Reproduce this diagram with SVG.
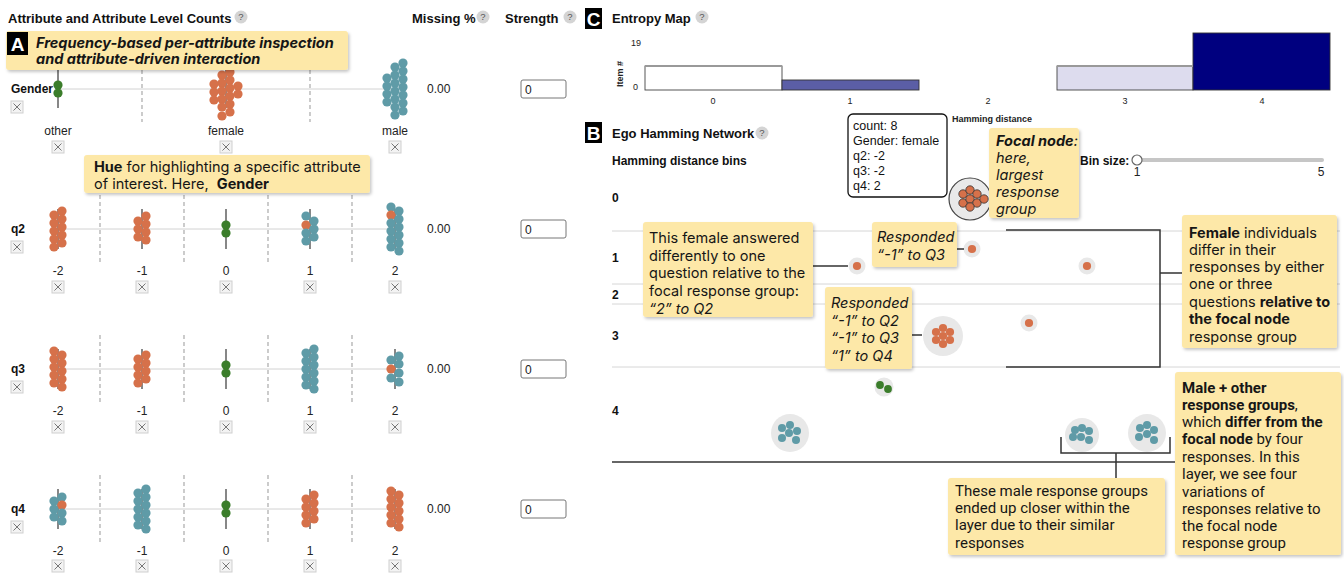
<svg xmlns="http://www.w3.org/2000/svg" width="1344" height="575" viewBox="0 0 1344 575">
<style>
.hd{font-family:"Liberation Sans",Arial,sans-serif;font-weight:700;font-size:13px;fill:#111}
.rl{font-family:"Liberation Sans",Arial,sans-serif;font-weight:700;font-size:12px;fill:#111}
.lv{font-family:"Liberation Sans",Arial,sans-serif;font-size:12px;fill:#222;text-anchor:middle}
.num{font-family:"Liberation Sans",Arial,sans-serif;font-size:12px;fill:#222}
.sm{font-family:"Liberation Sans",Arial,sans-serif;font-size:9px;fill:#222}
.axis{stroke:#d2d2d2;stroke-width:1}
.dash{stroke:#aaa;stroke-width:1.2;stroke-dasharray:4 3}
.vl{stroke:#7a7a7a;stroke-width:1.8}
.inp{fill:#fff;stroke:#777;stroke-width:1}
.co{fill:#fde8a8;filter:url(#sh)}
.ct{font-family:Inter,"Liberation Sans",sans-serif;font-size:14.5px;fill:#161616}
.cr{font-family:Roboto,"Liberation Sans",sans-serif;font-size:15px;fill:#161616}
.b{font-weight:700}
.i{font-style:italic}
.sep{stroke:#d6d6d6;stroke-width:1}
.halo{fill:#e8e8e8}
.conn{fill:none;stroke:#333;stroke-width:1.5}
.lab{fill:#000}
.labt{font-family:"Liberation Sans",Arial,sans-serif;font-weight:700;font-size:19px;fill:#fff;text-anchor:middle}
.tip{font-family:"Liberation Sans",Arial,sans-serif;font-size:12.5px;fill:#111}
</style>
<defs>
<filter id="sh" x="-10%" y="-10%" width="125%" height="130%">
<feDropShadow dx="1.5" dy="2" stdDeviation="1.6" flood-color="#000" flood-opacity="0.22"/>
</filter>
<circle id="o" r="4.6" fill="#d6714a"/>
<circle id="t" r="4.6" fill="#5f9ba7"/>
<circle id="g" r="4.6" fill="#3b7d2b"/>
<circle id="no" r="4.1" fill="#d6714a"/>
<circle id="nt" r="4" fill="#5f9ba7"/>
<circle id="ng" r="3.9" fill="#3b7d2b"/>
<circle id="fo" r="4.2" fill="#d6714a" stroke="#333" stroke-width="0.8"/>
<g id="xb"><rect x="-6" y="-6" width="12" height="12" fill="#f3f3f3" stroke="#cfcfcf"/><path d="M-3.5,-3.5L3.5,3.5M3.5,-3.5L-3.5,3.5" stroke="#777" stroke-width="1"/></g>
<g id="qm"><circle r="6.5" fill="#d4d4d4"/><text y="3.3" font-family="Liberation Sans,Arial,sans-serif" font-size="9.5" fill="#555" text-anchor="middle">?</text></g>
</defs>
<rect width="1344" height="575" fill="#fff"/>

<!-- Panel A headers -->
<g id="headers-a">
<text class="hd" x="8" y="23">Attribute and Attribute Level Counts</text>
<use href="#qm" x="241" y="17"/>
<text class="hd" x="412" y="23">Missing %</text>
<use href="#qm" x="483" y="17"/>
<text class="hd" x="505" y="23">Strength</text>
<use href="#qm" x="570" y="17"/>
</g>

<!-- Gender row -->
<g id="row-gender">
<line class="axis" x1="58" y1="89" x2="395" y2="89"/>
<line class="dash" x1="142" y1="56" x2="142" y2="122"/>
<line class="dash" x1="310" y1="56" x2="310" y2="122"/>
<line class="vl" x1="58" y1="70" x2="58" y2="108"/>
<line class="vl" x1="226" y1="70" x2="226" y2="108"/>
<line class="vl" x1="395" y1="70" x2="395" y2="108"/>
<use href="#g" x="58" y="85"/><use href="#g" x="58" y="93"/>
<g>
<use href="#o" x="230" y="72"/><use href="#o" x="222" y="75"/><use href="#o" x="230" y="80"/><use href="#o" x="222" y="83"/><use href="#o" x="214" y="84"/><use href="#o" x="238" y="86"/><use href="#o" x="230" y="88"/><use href="#o" x="222" y="91"/><use href="#o" x="214" y="92"/><use href="#o" x="238" y="94"/><use href="#o" x="230" y="96"/><use href="#o" x="222" y="99"/><use href="#o" x="214" y="100"/><use href="#o" x="230" y="104"/><use href="#o" x="222" y="107"/><use href="#o" x="230" y="112"/><use href="#o" x="222" y="116"/>
</g>
<g>
<use href="#t" x="403" y="63"/><use href="#t" x="395" y="67"/><use href="#t" x="403" y="71"/><use href="#t" x="395" y="75"/><use href="#t" x="387" y="78"/><use href="#t" x="403" y="79"/><use href="#t" x="395" y="83"/><use href="#t" x="387" y="86"/><use href="#t" x="403" y="87"/><use href="#t" x="395" y="91"/><use href="#t" x="387" y="94"/><use href="#t" x="403" y="95"/><use href="#t" x="395" y="99"/><use href="#t" x="387" y="102"/><use href="#t" x="403" y="103"/><use href="#t" x="395" y="107"/><use href="#t" x="403" y="111"/><use href="#t" x="395" y="115"/>
</g>
<text class="rl" x="11" y="93">Gender</text>
<use href="#xb" x="17" y="107"/>
<text class="lv" x="58" y="135">other</text><text class="lv" x="226" y="135">female</text><text class="lv" x="395" y="135">male</text>
<use href="#xb" x="58" y="147"/><use href="#xb" x="226" y="147"/><use href="#xb" x="395" y="147"/>
<text class="num" x="427" y="93">0.00</text>
<rect class="inp" x="521" y="80" width="45" height="18" rx="2"/><text class="num" x="525" y="94">0</text>
</g>

<!-- q2 row -->
<g id="row-q2">
<line class="axis" x1="58" y1="229" x2="395" y2="229"/>
<line class="dash" x1="100" y1="195" x2="100" y2="263"/><line class="dash" x1="184" y1="195" x2="184" y2="263"/><line class="dash" x1="268" y1="195" x2="268" y2="263"/><line class="dash" x1="352" y1="195" x2="352" y2="263"/>
<line class="vl" x1="58" y1="209" x2="58" y2="249"/><line class="vl" x1="142" y1="209" x2="142" y2="249"/><line class="vl" x1="226" y1="209" x2="226" y2="249"/><line class="vl" x1="310" y1="209" x2="310" y2="249"/><line class="vl" x1="395" y1="209" x2="395" y2="249"/>
<use href="#o" x="54" y="215"/><use href="#o" x="54" y="223"/><use href="#o" x="54" y="231"/><use href="#o" x="54" y="239"/><use href="#o" x="54" y="247"/><use href="#o" x="62" y="211"/><use href="#o" x="62" y="219"/><use href="#o" x="62" y="227"/><use href="#o" x="62" y="235"/><use href="#o" x="62" y="243"/>
<use href="#o" x="138" y="221"/><use href="#o" x="138" y="229"/><use href="#o" x="138" y="237"/><use href="#o" x="146" y="216"/><use href="#o" x="146" y="224"/><use href="#o" x="146" y="232"/><use href="#o" x="146" y="240"/>
<use href="#g" x="226" y="225"/><use href="#g" x="226" y="233"/>
<use href="#t" x="306" y="216"/><use href="#o" x="306" y="225"/><use href="#t" x="306" y="233"/><use href="#t" x="306" y="241"/><use href="#t" x="314" y="221"/><use href="#t" x="314" y="229"/><use href="#t" x="314" y="237"/>
<use href="#t" x="391" y="207"/><use href="#o" x="391" y="215"/><use href="#t" x="391" y="223"/><use href="#t" x="391" y="231"/><use href="#t" x="391" y="239"/><use href="#t" x="391" y="247"/><use href="#t" x="399" y="211"/><use href="#t" x="399" y="219"/><use href="#t" x="399" y="227"/><use href="#t" x="399" y="235"/><use href="#t" x="399" y="243"/><use href="#t" x="399" y="251"/>
<text class="rl" x="11" y="233">q2</text>
<use href="#xb" x="17" y="247"/>
<text class="lv" x="58" y="275">-2</text><text class="lv" x="142" y="275">-1</text><text class="lv" x="226" y="275">0</text><text class="lv" x="310" y="275">1</text><text class="lv" x="395" y="275">2</text>
<use href="#xb" x="58" y="287"/><use href="#xb" x="142" y="287"/><use href="#xb" x="226" y="287"/><use href="#xb" x="310" y="287"/><use href="#xb" x="395" y="287"/>
<text class="num" x="427" y="233">0.00</text>
<rect class="inp" x="521" y="220" width="45" height="18" rx="2"/><text class="num" x="525" y="234">0</text>
</g>

<!-- q3 row -->
<g id="row-q3">
<line class="axis" x1="58" y1="369" x2="395" y2="369"/>
<line class="dash" x1="100" y1="335" x2="100" y2="403"/><line class="dash" x1="184" y1="335" x2="184" y2="403"/><line class="dash" x1="268" y1="335" x2="268" y2="403"/><line class="dash" x1="352" y1="335" x2="352" y2="403"/>
<line class="vl" x1="58" y1="349" x2="58" y2="389"/><line class="vl" x1="142" y1="349" x2="142" y2="389"/><line class="vl" x1="226" y1="349" x2="226" y2="389"/><line class="vl" x1="310" y1="349" x2="310" y2="389"/><line class="vl" x1="395" y1="349" x2="395" y2="389"/>
<use href="#o" x="54" y="351"/><use href="#o" x="54" y="359"/><use href="#o" x="54" y="367"/><use href="#o" x="54" y="375"/><use href="#o" x="54" y="383"/><use href="#o" x="62" y="355"/><use href="#o" x="62" y="363"/><use href="#o" x="62" y="371"/><use href="#o" x="62" y="379"/><use href="#o" x="62" y="387"/>
<use href="#o" x="138" y="359"/><use href="#o" x="138" y="367"/><use href="#o" x="138" y="375"/><use href="#o" x="138" y="383"/><use href="#o" x="146" y="355"/><use href="#o" x="146" y="363"/><use href="#o" x="146" y="371"/><use href="#o" x="146" y="379"/>
<use href="#g" x="226" y="365"/><use href="#g" x="226" y="373"/>
<use href="#t" x="306" y="353"/><use href="#t" x="306" y="361"/><use href="#t" x="306" y="369"/><use href="#t" x="306" y="377"/><use href="#t" x="306" y="385"/><use href="#t" x="314" y="349"/><use href="#t" x="314" y="357"/><use href="#t" x="314" y="365"/><use href="#t" x="314" y="373"/><use href="#t" x="314" y="381"/><use href="#t" x="314" y="389"/>
<use href="#t" x="391" y="360"/><use href="#o" x="391" y="369"/><use href="#t" x="391" y="378"/><use href="#t" x="399" y="356"/><use href="#t" x="399" y="364"/><use href="#t" x="399" y="373"/><use href="#t" x="399" y="382"/>
<text class="rl" x="11" y="373">q3</text>
<use href="#xb" x="17" y="387"/>
<text class="lv" x="58" y="415">-2</text><text class="lv" x="142" y="415">-1</text><text class="lv" x="226" y="415">0</text><text class="lv" x="310" y="415">1</text><text class="lv" x="395" y="415">2</text>
<use href="#xb" x="58" y="427"/><use href="#xb" x="142" y="427"/><use href="#xb" x="226" y="427"/><use href="#xb" x="310" y="427"/><use href="#xb" x="395" y="427"/>
<text class="num" x="427" y="373">0.00</text>
<rect class="inp" x="521" y="360" width="45" height="18" rx="2"/><text class="num" x="525" y="374">0</text>
</g>

<!-- q4 row -->
<g id="row-q4">
<line class="axis" x1="58" y1="509" x2="395" y2="509"/>
<line class="dash" x1="100" y1="475" x2="100" y2="543"/><line class="dash" x1="184" y1="475" x2="184" y2="543"/><line class="dash" x1="268" y1="475" x2="268" y2="543"/><line class="dash" x1="352" y1="475" x2="352" y2="543"/>
<line class="vl" x1="58" y1="489" x2="58" y2="529"/><line class="vl" x1="142" y1="489" x2="142" y2="529"/><line class="vl" x1="226" y1="489" x2="226" y2="529"/><line class="vl" x1="310" y1="489" x2="310" y2="529"/><line class="vl" x1="395" y1="489" x2="395" y2="529"/>
<use href="#t" x="54" y="501"/><use href="#t" x="54" y="509"/><use href="#t" x="54" y="517"/><use href="#t" x="62" y="497"/><use href="#o" x="62" y="505"/><use href="#t" x="62" y="513"/><use href="#t" x="62" y="521"/>
<use href="#t" x="138" y="493"/><use href="#t" x="138" y="501"/><use href="#t" x="138" y="509"/><use href="#t" x="138" y="517"/><use href="#t" x="138" y="525"/><use href="#t" x="146" y="489"/><use href="#t" x="146" y="497"/><use href="#t" x="146" y="505"/><use href="#t" x="146" y="513"/><use href="#t" x="146" y="521"/><use href="#t" x="146" y="529"/>
<use href="#g" x="226" y="505"/><use href="#g" x="226" y="513"/>
<use href="#o" x="306" y="499"/><use href="#o" x="306" y="507"/><use href="#o" x="306" y="515"/><use href="#o" x="306" y="523"/><use href="#o" x="314" y="495"/><use href="#o" x="314" y="503"/><use href="#o" x="314" y="511"/><use href="#o" x="314" y="519"/>
<use href="#o" x="391" y="491"/><use href="#o" x="391" y="499"/><use href="#o" x="391" y="507"/><use href="#o" x="391" y="515"/><use href="#o" x="391" y="523"/><use href="#o" x="399" y="495"/><use href="#o" x="399" y="503"/><use href="#o" x="399" y="511"/><use href="#o" x="399" y="519"/><use href="#o" x="399" y="527"/>
<text class="rl" x="11" y="513">q4</text>
<use href="#xb" x="17" y="527"/>
<text class="lv" x="58" y="555">-2</text><text class="lv" x="142" y="555">-1</text><text class="lv" x="226" y="555">0</text><text class="lv" x="310" y="555">1</text><text class="lv" x="395" y="555">2</text>
<use href="#xb" x="58" y="566"/><use href="#xb" x="142" y="566"/><use href="#xb" x="226" y="566"/><use href="#xb" x="310" y="566"/><use href="#xb" x="395" y="566"/>
<text class="num" x="427" y="513">0.00</text>
<rect class="inp" x="521" y="500" width="45" height="18" rx="2"/><text class="num" x="525" y="514">0</text>
</g>

<!-- Panel A callouts -->
<g id="callout-a">
<rect class="co" x="6" y="31" width="342" height="39" rx="3"/>
<rect class="lab" x="7" y="32" width="21" height="23"/>
<text class="labt" x="17.5" y="51">A</text>
<text class="ct b i" x="36" y="48" font-size="15.4">Frequency-based per-attribute inspection</text>
<text class="ct b i" x="36" y="64" font-size="15.4">and attribute-driven interaction</text>
</g>
<g id="callout-hue">
<rect class="co" x="84" y="155" width="286" height="38" rx="3"/>
<text class="ct" x="94" y="172"><tspan class="b">Hue</tspan> for highlighting a specific attribute</text>
<text class="ct" x="94" y="189">of interest. Here, <tspan class="b" dx="4">Gender</tspan></text>
</g>

<!-- Panel C -->
<g id="entropy-map">
<rect class="lab" x="585" y="8" width="17" height="21"/>
<text class="labt" x="593.5" y="26" font-size="18">C</text>
<text class="hd" x="612" y="23">Entropy Map</text>
<use href="#qm" x="702" y="17"/>
<text class="sm" x="631" y="46">19</text>
<text class="sm" x="633" y="90">0</text>
<text class="sm" font-weight="700" font-size="7.5" transform="translate(623,74) rotate(-90)" text-anchor="middle">Item #</text>
<rect x="645" y="66" width="137" height="24" fill="#fff" stroke="#444" stroke-width="0.9"/>
<rect x="782" y="80" width="137" height="10" fill="#5b5ea6" stroke="#333" stroke-width="0.9"/>
<rect x="1057" y="66" width="136" height="24" fill="#dddcee" stroke="#444" stroke-width="0.9"/>
<rect x="1193" y="33" width="137" height="57" fill="#00007f" stroke="#333" stroke-width="0.9"/>
<line x1="645" y1="66" x2="782" y2="66" stroke="#999" stroke-width="2"/>
<line x1="1057" y1="66" x2="1193" y2="66" stroke="#999" stroke-width="2"/>
<text class="sm" x="713" y="104" text-anchor="middle">0</text>
<text class="sm" x="850" y="104" text-anchor="middle">1</text>
<text class="sm" x="988" y="104" text-anchor="middle">2</text>
<text class="sm" x="1125" y="104" text-anchor="middle">3</text>
<text class="sm" x="1262" y="104" text-anchor="middle">4</text>
<text class="sm" x="952" y="122" font-weight="700" font-size="9.5">Hamming distance</text>
</g>

<!-- Panel B -->
<g id="network-frame">
<rect class="lab" x="585" y="122" width="17" height="21"/>
<text class="labt" x="593.5" y="140" font-size="18">B</text>
<text class="hd" x="612" y="138">Ego Hamming Network</text>
<use href="#qm" x="762" y="133"/>
<text class="rl" x="612" y="165" font-size="11">Hamming distance bins</text>
<text class="rl" x="612" y="202" font-size="10.5">0</text>
<text class="rl" x="612" y="262" font-size="10.5">1</text>
<text class="rl" x="612" y="299" font-size="10.5">2</text>
<text class="rl" x="612" y="340" font-size="10.5">3</text>
<text class="rl" x="612" y="415" font-size="10.5">4</text>
<line class="sep" x1="612" y1="231" x2="1340" y2="231"/>
<line class="sep" x1="612" y1="284" x2="1340" y2="284"/>
<line class="sep" x1="612" y1="304" x2="1340" y2="304"/>
<line class="sep" x1="612" y1="367" x2="1340" y2="367"/>
<line x1="612" y1="462" x2="1176" y2="462" stroke="#666" stroke-width="2"/>
<text class="rl" x="1080" y="165">Bin size:</text>
<line x1="1137" y1="160" x2="1322" y2="160" stroke="#c6c6c6" stroke-width="4" stroke-linecap="round"/>
<circle cx="1137" cy="160" r="5" fill="#fff" stroke="#666" stroke-width="1.2"/>
<text class="num" x="1137" y="176" text-anchor="middle" font-size="11">1</text>
<text class="num" x="1321" y="176" text-anchor="middle" font-size="11">5</text>
</g>

<g id="node-focal">
<circle cx="970" cy="199" r="21" fill="#e9e9e9" stroke="#444" stroke-width="1.2"/>
<use href="#fo" x="963" y="194"/><use href="#fo" x="970" y="190"/><use href="#fo" x="977" y="194"/><use href="#fo" x="963" y="203"/><use href="#fo" x="970" y="199"/><use href="#fo" x="977" y="203"/><use href="#fo" x="970" y="207"/><use href="#fo" x="984" y="199"/>
</g>
<g id="node-1a"><circle class="halo" cx="857" cy="266" r="8.5"/><use href="#no" x="857" y="266"/></g>
<g id="node-1b"><circle class="halo" cx="972" cy="249" r="8.5"/><use href="#no" x="972" y="249"/></g>
<g id="node-1c"><circle class="halo" cx="1087" cy="266" r="8.5"/><use href="#no" x="1087" y="266"/></g>
<g id="node-3a"><circle class="halo" cx="1029" cy="323" r="8.5"/><use href="#no" x="1029" y="323"/></g>
<g id="node-3b">
<circle class="halo" cx="943" cy="336" r="20"/>
<use href="#no" x="943" y="336"/><use href="#no" x="943" y="328"/><use href="#no" x="950" y="332"/><use href="#no" x="950" y="340"/><use href="#no" x="943" y="344"/><use href="#no" x="936" y="340"/><use href="#no" x="936" y="332"/>
</g>
<g id="node-4g"><circle class="halo" cx="884" cy="387" r="9.5"/><use href="#ng" x="880" y="385"/><use href="#ng" x="888" y="389"/></g>
<g id="node-4a">
<circle class="halo" cx="790" cy="433" r="19"/>
<use href="#nt" x="782" y="428"/><use href="#nt" x="790" y="425"/><use href="#nt" x="797" y="431"/><use href="#nt" x="782" y="438"/><use href="#nt" x="789" y="433"/><use href="#nt" x="796" y="440"/>
</g>
<g id="node-4b">
<circle class="halo" cx="1082" cy="435" r="17"/>
<use href="#nt" x="1075" y="430"/><use href="#nt" x="1082" y="428"/><use href="#nt" x="1089" y="431"/><use href="#nt" x="1073" y="437"/><use href="#nt" x="1081" y="437"/><use href="#nt" x="1089" y="440"/>
</g>
<g id="node-4c">
<circle class="halo" cx="1147" cy="433" r="19"/>
<use href="#nt" x="1140" y="428"/><use href="#nt" x="1147" y="425"/><use href="#nt" x="1154" y="430"/><use href="#nt" x="1139" y="437"/><use href="#nt" x="1147" y="434"/><use href="#nt" x="1154" y="440"/>
</g>

<g id="tooltip">
<rect x="848" y="114" width="99" height="83" rx="5" fill="#fff" stroke="#111" stroke-width="1.3"/>
<text class="tip" x="853" y="130">count: 8</text>
<text class="tip" x="853" y="145">Gender: female</text>
<text class="tip" x="853" y="160">q2: -2</text>
<text class="tip" x="853" y="175">q3: -2</text>
<text class="tip" x="853" y="190">q4: 2</text>
</g>

<!-- connectors -->
<g id="connectors">
<path class="conn" d="M813,266H848"/>
<path class="conn" d="M957,249H964"/>
<path class="conn" d="M912,335H922"/>
<path class="conn" d="M1006,230H1160V367H1006M1160,273H1182"/>
<path class="conn" d="M1061,437V453H1170V437M1116,453V478"/>
</g>

<!-- Panel B callouts -->
<g id="callout-focal">
<rect class="co" x="989" y="128" width="90" height="90" rx="3"/>
<text class="ct i" x="996" y="146"><tspan class="b">Focal node</tspan>:</text>
<text class="ct i" x="996" y="163">here,</text>
<text class="ct i" x="996" y="180">largest</text>
<text class="ct i" x="996" y="197">response</text>
<text class="ct i" x="996" y="214">group</text>
</g>
<g id="callout-one">
<rect class="co" x="643" y="222" width="170" height="95" rx="3"/>
<text class="ct" x="649" y="243">This female answered</text>
<text class="ct" x="649" y="261">differently to one</text>
<text class="ct" x="649" y="278">question relative to the</text>
<text class="ct" x="649" y="296">focal response group:</text>
<text class="ct i" x="649" y="314">“2” to Q2</text>
</g>
<g id="callout-q3">
<rect class="co" x="872" y="222" width="85" height="45" rx="3"/>
<text class="ct i" x="877" y="242">Responded</text>
<text class="ct i" x="877" y="260">“-1” to Q3</text>
</g>
<g id="callout-three">
<rect class="co" x="825" y="287" width="87" height="82" rx="3"/>
<text class="ct i" x="831" y="308">Responded</text>
<text class="ct i" x="831" y="326">“-1” to Q2</text>
<text class="ct i" x="831" y="343">“-1” to Q3</text>
<text class="ct i" x="831" y="361">“1” to Q4</text>
</g>
<g id="callout-female">
<rect class="co" x="1182" y="215" width="155" height="133" rx="3"/>
<text class="ct" x="1189" y="238"><tspan class="b">Female</tspan> individuals</text>
<text class="ct" x="1189" y="255">differ in their</text>
<text class="ct" x="1189" y="272">responses by either</text>
<text class="ct" x="1189" y="289">one or three</text>
<text class="ct" x="1189" y="307">questions <tspan class="b">relative to</tspan></text>
<text class="ct b" x="1189" y="324">the focal node</text>
<text class="ct" x="1189" y="342">response group</text>
</g>
<g id="callout-male-close">
<rect class="co" x="948" y="478" width="217" height="77" rx="3"/>
<text class="cr" x="955" y="496">These male response groups</text>
<text class="cr" x="955" y="513">ended up closer within the</text>
<text class="cr" x="955" y="530">layer due to their similar</text>
<text class="cr" x="955" y="548">responses</text>
</g>
<g id="callout-male-other">
<rect class="co" x="1175" y="372" width="166" height="183" rx="3"/>
<text class="cr b" x="1182" y="393">Male + other</text>
<text class="cr" x="1182" y="410"><tspan class="b">response groups</tspan>,</text>
<text class="cr" x="1182" y="427">which <tspan class="b">differ from the</tspan></text>
<text class="cr" x="1182" y="444"><tspan class="b">focal node</tspan> by four</text>
<text class="cr" x="1182" y="462">responses. In this</text>
<text class="cr" x="1182" y="479">layer, we see four</text>
<text class="cr" x="1182" y="497">variations of</text>
<text class="cr" x="1182" y="514">responses relative to</text>
<text class="cr" x="1182" y="531">the focal node</text>
<text class="cr" x="1182" y="548">response group</text>
</g>
</svg>
